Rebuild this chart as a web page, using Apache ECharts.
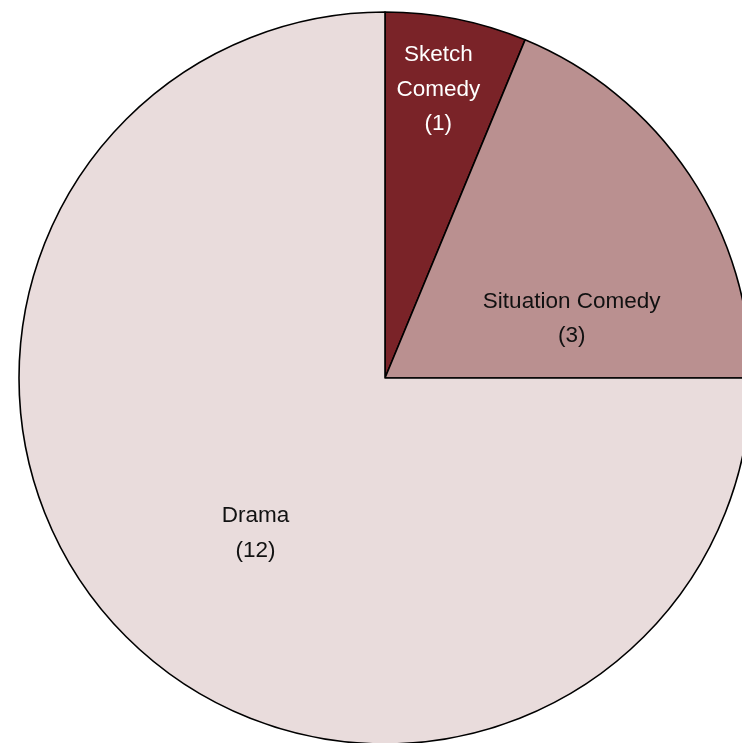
<!DOCTYPE html>
<html>
<head>
<meta charset="utf-8">
<script src="https://cdn.jsdelivr.net/npm/echarts@6/dist/echarts.min.js"></script>
<style>
  html, body { margin: 0; padding: 0; background: #ffffff; }
  #chart { width: 742px; height: 743px; }
</style>
</head>
<body>
<div id="chart"></div>
<script>
// Programme genres and their counts
const categories = ['Sketch Comedy', 'Situation Comedy', 'Drama'];
const labelNames = ['Sketch\nComedy', 'Situation Comedy', 'Drama'];
const counts = [1, 3, 12];
const sliceColors = ['#7a2328', '#ba9090', '#e9dcdc'];
const labelColors = ['#ffffff', '#111111', '#111111'];
// where each label sits relative to the slice's default inside point
const labelOffsets = [[17, -106], [32, 44], [2, 24]];

const chart = echarts.init(document.getElementById('chart'), null, { renderer: 'canvas' });

const data = categories.map((name, i) => ({
  name: name,
  value: counts[i],
  itemStyle: { color: sliceColors[i] },
  label: {
    color: labelColors[i],
    offset: labelOffsets[i],
    formatter: labelNames[i] + '\n(' + counts[i] + ')'
  }
}));

chart.setOption({
  animation: false,
  backgroundColor: '#ffffff',
  series: [{
    type: 'pie',
    center: [385, 378],
    radius: 366,
    startAngle: 90,
    clockwise: true,
    avoidLabelOverlap: false,
    itemStyle: { borderColor: '#000000', borderWidth: 1.6 },
    label: {
      show: true,
      position: 'inside',
      rotate: 0,
      fontFamily: 'Liberation Sans, Arial, sans-serif',
      fontSize: 22.5,
      lineHeight: 34.5,
      align: 'center'
    },
    labelLine: { show: false },
    emphasis: { disabled: true },
    data: data
  }]
});
</script>
</body>
</html>
